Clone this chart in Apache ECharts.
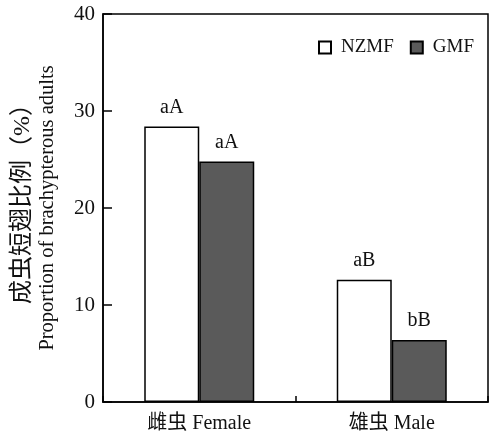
<!DOCTYPE html>
<html>
<head>
<meta charset="utf-8">
<script src="https://cdn.jsdelivr.net/npm/echarts@6/dist/echarts.min.js"></script>
<style>html,body{margin:0;padding:0;background:#fff;}#c{width:498px;height:438px;}</style>
</head>
<body>
<div id="c"></div>
<script>
const categories = ['雌虫 Female', '雄虫 Male'];
const seriesNames = ['NZMF', 'GMF'];
const nzmf = [28.4, 12.6];
const gmf = [24.8, 6.4];
const nzmfLabels = ['aA', 'aB'];
const gmfLabels = ['aA', 'bB'];
const yTicks = [0, 10, 20, 30, 40];

const FONT = "'Liberation Serif', 'Times New Roman', 'Noto Sans CJK SC', serif";
const chart = echarts.init(document.getElementById('c'), null, {renderer: 'canvas'});
function mkSeries(name, data, labels, color) {
  return {
    name: name, type: 'bar', data: data, barWidth: 55, barGap: '0%',
    itemStyle: {color: color, borderColor: '#000', borderWidth: 1.5},
    label: {show: true, position: 'top', distance: 9, color: '#111', fontFamily: FONT, fontSize: 20,
      formatter: p => labels[p.dataIndex]},
    emphasis: {disabled: true}
  };
}
chart.setOption({
  animation: false,
  backgroundColor: '#fff',
  grid: {left: 103, top: 14, right: 10, bottom: 36, show: true, borderColor: '#000', borderWidth: 1.5, backgroundColor: 'transparent'},
  legend: {
    left: 313, top: 33, itemWidth: 12, itemHeight: 12, itemGap: 16,
    icon: 'rect',
    textStyle: {fontFamily: FONT, fontSize: 19, color: '#111', padding: [0, 0, 0, 5]},
    data: seriesNames
  },
  xAxis: {
    type: 'category', data: categories,
    axisLine: {lineStyle: {color: '#000', width: 1.5}},
    axisTick: {show: true, inside: true, length: 6, lineStyle: {color: '#000', width: 1.5}},
    axisLabel: {fontFamily: FONT, fontSize: 20, color: '#111', margin: 12}
  },
  yAxis: {
    type: 'value', min: yTicks[0], max: yTicks[yTicks.length - 1], interval: 10,
    splitLine: {show: false},
    axisLine: {show: true, lineStyle: {color: '#000', width: 1.5}},
    axisTick: {show: true, inside: true, length: 9, lineStyle: {color: '#000', width: 1.5}},
    axisLabel: {fontFamily: FONT, fontSize: 21, color: '#111', margin: 8},
    name: '{zh|成虫短翅比例（%）}\n{en|Proportion of brachypterous adults}',
    nameLocation: 'middle', nameGap: 43, nameRotate: 90,
    nameTextStyle: {
      fontFamily: FONT, color: '#111',
      rich: {
        zh: {fontFamily: FONT, fontSize: 24, lineHeight: 26, color: '#111', padding: [0, 0, 0, 20]},
        en: {fontFamily: FONT, fontSize: 20.5, lineHeight: 24, color: '#111'}
      }
    }
  },
  series: [
    mkSeries(seriesNames[0], nzmf, nzmfLabels, '#ffffff'),
    mkSeries(seriesNames[1], gmf, gmfLabels, '#5a5a5a')
  ]
});
</script>
</body>
</html>
